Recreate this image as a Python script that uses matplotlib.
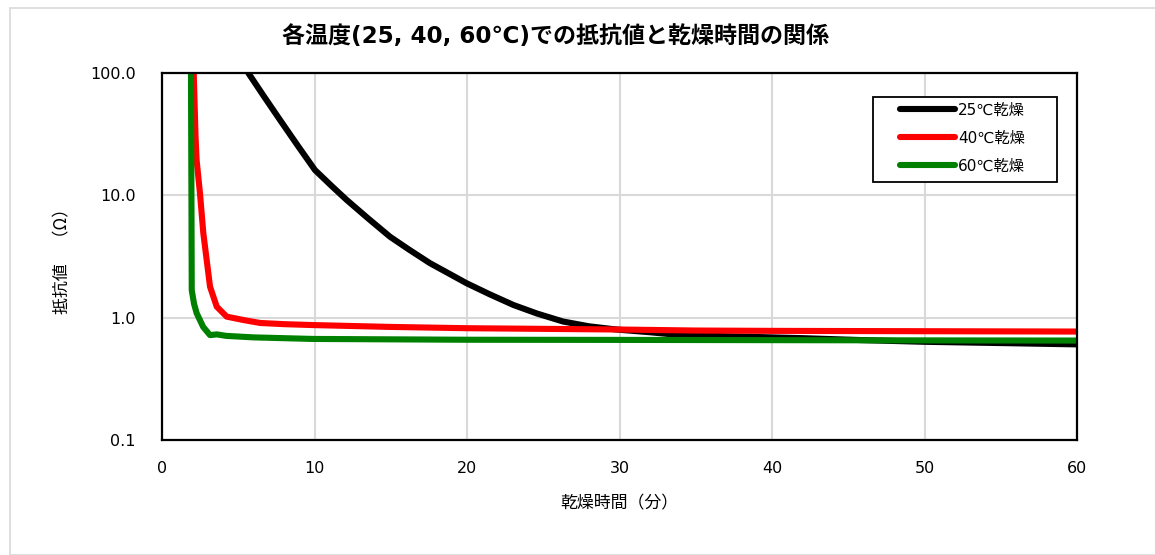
import matplotlib
matplotlib.use("Agg")
import matplotlib.pyplot as plt
from matplotlib.patches import Rectangle

plt.rcParams['font.family'] = ['DejaVu Sans', 'Noto Sans CJK JP']

# data (time in minutes, resistance in ohm)
t25 = [5.66, 6.7, 7.74, 8.9, 10.03, 11.1, 12.11, 13.5, 14.95, 16.2, 17.57, 18.8, 19.98,
       21.5, 23.04, 24.6, 26.3, 28.0, 29.8, 32.0, 34.0, 38.0, 42.0, 46.0, 50.0, 55.0, 60.0]
r25 = [100, 64, 41.3, 25.5, 16.1, 12.0, 9.17, 6.5, 4.59, 3.6, 2.79, 2.3, 1.91,
       1.55, 1.27, 1.08, 0.93, 0.85, 0.80, 0.76, 0.72, 0.70, 0.68, 0.655, 0.635, 0.62, 0.605]
t40 = [2.08, 2.2, 2.27, 2.49, 2.71, 2.93, 3.15, 3.59, 4.24, 5.33, 6.43, 8.0, 9.9,
       15, 20, 25, 30, 35, 40, 50, 60]
r40 = [100, 30, 19.4, 10.4, 4.9, 2.96, 1.79, 1.23, 1.02, 0.957, 0.905, 0.885, 0.87,
       0.84, 0.82, 0.81, 0.80, 0.785, 0.78, 0.775, 0.77]
t60 = [1.9, 1.93, 1.95, 2.1, 2.27, 2.7, 3.15, 3.6, 4.2, 6.0, 9.9, 20, 30, 40, 50, 60]
r60 = [100, 10, 1.68, 1.3, 1.09, 0.84, 0.72, 0.73, 0.71, 0.69, 0.67, 0.66, 0.658, 0.655, 0.652, 0.65]

labels = ['25℃乾燥', '40℃乾燥', '60℃乾燥']
colors = ['#000000', '#ff0000', '#008000']
xticks = [0, 10, 20, 30, 40, 50, 60]
yticks = [0.1, 1, 10, 100]
ytick_labels = ['0.1', '1.0', '10.0', '100.0']

W, H = 1155, 555
fig = plt.figure(figsize=(W / 100, H / 100), dpi=100)
fig.patches.append(Rectangle((10 / W, 0), 1.2, 1 - 8 / H, transform=fig.transFigure,
                             fill=False, edgecolor='#d9d9d9', linewidth=1.2))

ax = fig.add_axes([162 / W, (H - 440) / H, (1077 - 162) / W, (440 - 73) / H])
for t, r, c, lab in zip([t25, t40, t60], [r25, r40, r60], colors, labels):
    ax.plot(t, r, color=c, linewidth=4.4, label=lab, solid_capstyle='round',
            solid_joinstyle='round')

ax.set_yscale('log')
ax.set_xlim(0, 60)
ax.set_ylim(0.1, 100)
ax.set_xticks(xticks)
ax.set_xticklabels([str(v) for v in xticks])
ax.set_yticks(yticks)
ax.set_yticklabels(ytick_labels)
ax.minorticks_off()
ax.tick_params(length=0, labelsize=11.5, colors='#000000')
ax.tick_params(axis='x', pad=15)
ax.tick_params(axis='y', pad=19)
ax.grid(True, color='#d9d9d9', linewidth=1.5)
ax.set_axisbelow(True)
for s in ax.spines.values():
    s.set_linewidth(1.6)
    s.set_color('#000000')

ax.set_xlabel('乾燥時間（分）', fontsize=12.2, labelpad=13, family=['Noto Sans CJK JP'])
ax.set_ylabel('抵抗値　（Ω）', fontsize=12.2, labelpad=13, family=['Noto Sans CJK JP'])

fig.text(555 / W, (H - 36) / H, '各温度(25, 40, 60℃)での抵抗値と乾燥時間の関係',
         ha='center', va='center', fontsize=16.6, fontweight='bold')

# legend box
box = Rectangle((872.7 / W, (H - 181.7) / H), (1056.7 - 872.7) / W, (181.7 - 96.7) / H,
                transform=fig.transFigure, facecolor='white', edgecolor='black',
                linewidth=1.3, zorder=4)
ax.add_artist(box)
leg = ax.legend(loc='upper left',
                bbox_to_anchor=((900 - 162) / (1077 - 162), (440 - 102.5) / (440 - 73)),
                frameon=False, fontsize=11, handlelength=3.6, handletextpad=0.2,
                borderpad=0, labelspacing=0.86, borderaxespad=0)
leg.set_zorder(5)

fig.savefig('out.png', dpi=100)
